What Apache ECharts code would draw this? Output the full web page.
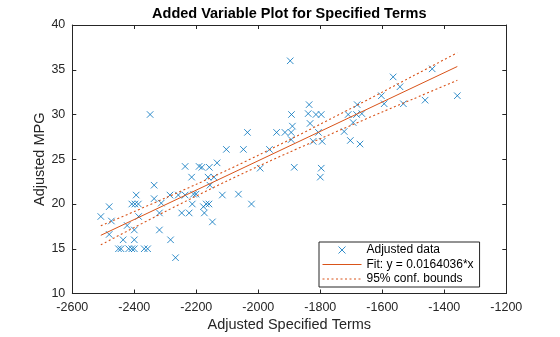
<!DOCTYPE html>
<html>
<head>
<meta charset="utf-8">
<script src="https://cdn.jsdelivr.net/npm/echarts@6/dist/echarts.min.js"></script>
<style>
  html, body { margin: 0; padding: 0; background: #ffffff; }
  #chart { width: 560px; height: 337px; }
</style>
</head>
<body>
<div id="chart"></div>
<script>
// Adjusted data points (x: adjusted specified terms, y: adjusted MPG)
const adjX = [
  -2508, -2481, -2474, -2481, -2451, -2443, -2436, -2423, -2418, -2408,
  -2400, -2368, -2357, -2400, -2400, -2386, -2408, -2398, -2387, -2394,
  -2336, -2336, -2319, -2319, -2313, -2285, -2258, -2236, -2283, -2267,
  -2247, -2223, -2236, -2215, -2213, -2209, -2201, -2191, -2182, -2177,
  -2174, -2168, -2159, -2162, -2143, -2156, -2158, -2148, -2133, -2116,
  -2064, -2022, -1994, -1884, -2103, -2048, -1964, -2035, -1941, -1914,
  -1894, -1894, -1897, -2349, -1893, -1890, -1839, -1836, -1833, -1814,
  -1797, -1806, -1823, -1794, -1797, -1800, -1723, -1710, -1681, -1694,
  -1683, -1666, -1703, -1672, -1603, -1594, -1565, -1543, -1532, -1462,
  -1439, -1358
];
const adjY = [
  18.6, 19.7, 18.1, 16.6, 15.0, 15.0, 16.0, 17.6, 15.0, 15.0,
  15.0, 15.0, 15.0, 16.0, 17.1, 18.6, 20.0, 20.0, 20.0, 21.0,
  22.1, 20.6, 19.0, 17.1, 20.1, 21.0, 21.0, 21.0, 16.0, 14.0,
  19.0, 19.0, 24.2, 23.0, 20.0, 21.1, 21.1, 24.2, 24.1, 19.7,
  19.0, 20.0, 20.0, 23.0, 23.0, 22.1, 24.1, 18.0, 24.6, 21.0,
  21.1, 20.0, 24.0, 24.1, 26.1, 26.1, 26.1, 28.0, 28.0, 28.0,
  28.0, 27.2, 36.0, 30.0, 30.0, 28.7, 30.1, 31.1, 29.0, 30.0,
  30.0, 28.0, 27.0, 27.0, 24.0, 23.0, 28.1, 30.0, 31.1, 29.1,
  30.0, 30.1, 27.1, 26.7, 32.1, 31.2, 34.2, 33.1, 31.2, 31.6,
  35.1, 32.1
];

// Fitted line y = slope * x + intercept over the data range
const fitSlope = 0.0164036;
const fitIntercept = 57.64;
const fitRangeX = [-2508, -1358];

// 95% confidence bounds of the fit
const boundX = [-2508, -2400, -2300, -2200, -2100, -2000, -1900, -1800, -1700, -1600, -1500, -1358];
const boundUpper = [17.56, 19.16, 20.67, 22.20, 23.79, 25.45, 27.16, 28.92, 30.70, 32.50, 34.32, 36.90];
const boundLower = [15.44, 17.38, 19.16, 20.90, 22.59, 24.21, 25.78, 27.30, 28.80, 30.28, 31.74, 33.82];

// Axis ticks
const xTicks = { min: -2600, max: -1200, step: 200 };
const yTicks = { min: 10, max: 40, step: 5 };

const FONT = '"Liberation Sans", Arial, Helvetica, sans-serif';
const AXIS_COLOR = '#262626';
const DATA_COLOR = '#0072BD';
const FIT_COLOR = '#D95319';

const pairs = (xs, ys) => xs.map((x, i) => [x, ys[i]]);
const fitData = fitRangeX.map(x => [x, fitSlope * x + fitIntercept]);
const plainNumber = v => String(v);

const chart = echarts.init(document.getElementById('chart'), null, { renderer: 'canvas' });

const boxAxisX = (pos, showLabels) => ({
  type: 'value',
  position: pos,
  min: xTicks.min, max: xTicks.max, interval: xTicks.step,
  axisLine: { show: true, onZero: false, lineStyle: { color: AXIS_COLOR, width: 1 } },
  axisTick: { show: true, inside: true, length: 4, lineStyle: { color: AXIS_COLOR } },
  axisLabel: { show: showLabels, color: AXIS_COLOR, fontSize: 12.5, fontFamily: FONT, margin: 7.5, formatter: plainNumber },
  splitLine: { show: false }
});
const boxAxisY = (pos, showLabels) => ({
  type: 'value',
  position: pos,
  min: yTicks.min, max: yTicks.max, interval: yTicks.step,
  axisLine: { show: true, onZero: false, lineStyle: { color: AXIS_COLOR, width: 1 } },
  axisTick: { show: true, inside: true, length: 4, lineStyle: { color: AXIS_COLOR } },
  axisLabel: { show: showLabels, color: AXIS_COLOR, fontSize: 12.5, fontFamily: FONT, margin: 7, formatter: plainNumber },
  splitLine: { show: false }
});

const xBottom = Object.assign(boxAxisX('bottom', true), {
  name: 'Adjusted Specified Terms', nameLocation: 'middle', nameGap: 23.5, nameMoveOverlap: false,
  nameTextStyle: { color: AXIS_COLOR, fontSize: 14.5, fontFamily: FONT }
});
const yLeft = Object.assign(boxAxisY('left', true), {
  name: 'Adjusted MPG', nameLocation: 'middle', nameGap: 25, nameMoveOverlap: false,
  nameTextStyle: { color: AXIS_COLOR, fontSize: 14.5, fontFamily: FONT }
});

const option = {
  animation: false,
  backgroundColor: '#ffffff',
  title: {
    text: 'Added Variable Plot for Specified Terms',
    left: 289.3,
    textAlign: 'center',
    top: 6.5,
    padding: 0,
    textStyle: { color: '#000000', fontSize: 14.5, fontWeight: 'bold', fontFamily: FONT }
  },
  grid: { left: 72.3, right: 53.7, top: 25, bottom: 39.7, containLabel: false },
  xAxis: [xBottom, boxAxisX('top', false)],
  yAxis: [yLeft, boxAxisY('right', false)],
  legend: {
    orient: 'vertical',
    left: 319,
    top: 242,
    backgroundColor: '#ffffff',
    borderColor: AXIS_COLOR,
    borderWidth: 1,
    borderRadius: 0,
    padding: [2, 6, 2, 3],
    itemGap: 2.5,
    itemWidth: 39,
    itemHeight: 7,
    symbolKeepAspect: true,
    lineStyle: { width: 1 },
    textStyle: { color: '#000000', fontSize: 12, fontFamily: FONT },
    data: [
      { name: 'Adjusted data', itemStyle: { borderWidth: 1 } },
      { name: 'Fit: y = 0.0164036*x', itemStyle: { opacity: 0 } },
      { name: '95% conf. bounds', itemStyle: { opacity: 0 } }
    ]
  },
  series: [
    {
      name: 'Adjusted data',
      type: 'scatter',
      xAxisIndex: 0, yAxisIndex: 0,
      symbol: 'path://M0,0L10,10M10,0L0,10',
      symbolSize: 6.5,
      itemStyle: { color: DATA_COLOR, borderColor: DATA_COLOR, borderWidth: 1 },
      emphasis: { disabled: true },
      data: pairs(adjX, adjY)
    },
    {
      name: 'Fit: y = 0.0164036*x',
      type: 'line',
      xAxisIndex: 0, yAxisIndex: 0,
      symbol: 'none', showSymbol: false,
      lineStyle: { color: FIT_COLOR, width: 1 },
      itemStyle: { color: FIT_COLOR },
      emphasis: { disabled: true },
      data: fitData
    },
    {
      name: '95% conf. bounds',
      type: 'line',
      xAxisIndex: 0, yAxisIndex: 0,
      symbol: 'none', showSymbol: false, smooth: 0.3,
      lineStyle: { color: FIT_COLOR, width: 1.1, type: [2, 2.5] },
      itemStyle: { color: FIT_COLOR },
      emphasis: { disabled: true },
      data: pairs(boundX, boundUpper)
    },
    {
      name: '95% conf. bounds',
      type: 'line',
      xAxisIndex: 0, yAxisIndex: 0,
      symbol: 'none', showSymbol: false, smooth: 0.3,
      lineStyle: { color: FIT_COLOR, width: 1.1, type: [2, 2.5] },
      itemStyle: { color: FIT_COLOR },
      emphasis: { disabled: true },
      data: pairs(boundX, boundLower)
    }
  ]
};

chart.setOption(option);
</script>
</body>
</html>
